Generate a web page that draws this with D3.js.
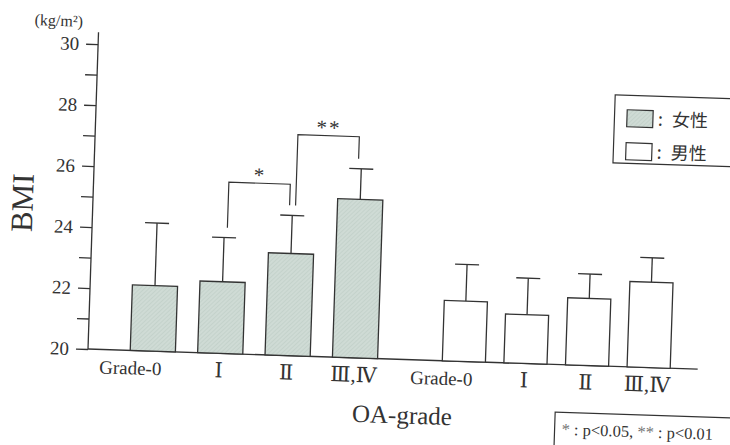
<!DOCTYPE html>
<meta charset="utf-8">
<style>
body { margin: 0; background: #fff; }
text { font-family: "Liberation Serif", "DejaVu Serif", serif; fill: #333; }
.jp { font-family: "Noto Sans CJK JP", sans-serif; }
</style>
<svg width="730" height="445"></svg>
<script src="https://cdn.jsdelivr.net/npm/d3@7"></script>
<script>

// data
var grades = ["Grade-0", "Ⅰ", "Ⅱ", "Ⅲ,Ⅳ"];
var femaleMean = [22.15, 22.35, 23.35, 25.2];
var femaleSD = [2.05, 1.45, 1.25, 1.0];
var maleMean = [21.98, 21.6, 22.2, 22.8];
var maleSD = [1.2, 1.2, 0.8, 0.8];
var yTicks = [20, 21, 22, 23, 24, 25, 26, 27, 28, 29, 30];
var legendLabels = ["女性", "男性"];
// significance between female groups (index a, index b, mark, bracket level in kg/m2)
var sigA = [1, 2], sigB = [2, 3], sigMark = ["*", "**"], sigLevel = [25.62, 27.25];

var svg = d3.select("svg");
var ink = "#333";

// hatch for the shaded bars
var pat = svg.append("defs").append("pattern")
    .attr("id", "shade").attr("width", 3).attr("height", 3)
    .attr("patternUnits", "userSpaceOnUse").attr("patternTransform", "rotate(45)");
pat.append("rect").attr("width", 3).attr("height", 3).attr("fill", "#cfdbd5");
pat.append("line").attr("x1", 0).attr("y1", 0).attr("x2", 0).attr("y2", 3)
    .attr("stroke", "#b9c9c2").attr("stroke-width", 1);

// the scan is tilted a little, so everything goes in a rotated group
var g = svg.append("g").attr("transform", "rotate(1.9,88,349)");

var y = d3.scaleLinear().domain([20, 30]).range([349, 44]);
var xF = d3.scaleBand().domain(grades).range([108, 400]).paddingInner(0.33).paddingOuter(0.33);
var xM = d3.scaleBand().domain(grades).range([424, 689]).paddingInner(0.3).paddingOuter(0.3);

// y axis
var yAxis = g.append("g").attr("transform", "translate(88,0)")
    .call(d3.axisLeft(y).tickValues(yTicks).tickSize(12).tickPadding(7).tickSizeOuter(0)
      .tickFormat(function(d) { return d % 2 === 0 ? d : ""; }));
yAxis.select(".domain").remove();
yAxis.selectAll("line").attr("stroke", ink).attr("stroke-width", 1.3);
yAxis.selectAll("text").style("font-size", "19px").attr("fill", ink)
    .style("font-family", "'Liberation Serif', serif");
g.append("line").attr("x1", 88).attr("x2", 88).attr("y1", 32).attr("y2", y(20))
    .attr("stroke", ink).attr("stroke-width", 1.3);
g.append("line").attr("x1", 88).attr("x2", 698).attr("y1", y(20)).attr("y2", y(20))
    .attr("stroke", ink).attr("stroke-width", 1.3);

function drawGroup(x, means, sds, fill) {
  var grp = g.append("g");
  var rows = grades.map(function(k, i) { return {k: k, m: means[i], sd: sds[i]}; });
  grp.selectAll("line.err").data(rows).enter().append("line")
      .attr("x1", function(d) { return x(d.k) + x.bandwidth() / 2; })
      .attr("x2", function(d) { return x(d.k) + x.bandwidth() / 2; })
      .attr("y1", function(d) { return y(d.m); })
      .attr("y2", function(d) { return y(d.m + d.sd); })
      .attr("stroke", ink).attr("stroke-width", 1.3);
  grp.selectAll("line.cap").data(rows).enter().append("line")
      .attr("x1", function(d) { return x(d.k) + x.bandwidth() / 2 - 12; })
      .attr("x2", function(d) { return x(d.k) + x.bandwidth() / 2 + 12; })
      .attr("y1", function(d) { return y(d.m + d.sd); })
      .attr("y2", function(d) { return y(d.m + d.sd); })
      .attr("stroke", ink).attr("stroke-width", 1.3);
  grp.selectAll("rect").data(rows).enter().append("rect")
      .attr("x", function(d) { return x(d.k); })
      .attr("y", function(d) { return y(d.m); })
      .attr("width", x.bandwidth())
      .attr("height", function(d) { return y(20) - y(d.m); })
      .attr("fill", fill).attr("stroke", ink).attr("stroke-width", 1.3);
  grp.selectAll("text").data(rows).enter().append("text")
      .attr("x", function(d) { return x(d.k) + x.bandwidth() / 2 + (d.k === "Grade-0" ? -22 : -1); })
      .attr("y", 373)
      .attr("text-anchor", "middle")
      .style("font-size", function(d) { return d.k === "Grade-0" ? "19px" : "21px"; })
      .text(function(d) { return d.k; });
}
drawGroup(xF, femaleMean, femaleSD, "url(#shade)");
drawGroup(xM, maleMean, maleSD, "#fff");

// significance brackets
sigMark.forEach(function(mark, i) {
  var a = grades[sigA[i]], b = grades[sigB[i]];
  var x1 = xF(a) + xF.bandwidth() / 2 + 3, x2 = xF(b) + xF.bandwidth() / 2 - 3;
  var top = y(sigLevel[i]);
  var b1 = y(femaleMean[sigA[i]] + femaleSD[sigA[i]]) - 10;
  var b2 = y(femaleMean[sigB[i]] + femaleSD[sigB[i]]) - 10;
  g.append("path")
      .attr("d", "M" + x1 + "," + b1 + "V" + top + "H" + x2 + "V" + b2)
      .attr("fill", "none").attr("stroke", ink).attr("stroke-width", 1.2);
  g.append("text").attr("x", (x1 + x2) / 2).attr("y", top - 1)
      .attr("text-anchor", "middle").attr("fill", "#666")
      .style("font-size", "21px").style("letter-spacing", "2px")
      .text(mark);
});

// axis titles
g.append("text").attr("x", 48).attr("y", 27).attr("text-anchor", "middle")
    .style("font-size", "16px").text("(kg/m²)");
g.append("text").attr("transform", "translate(28,205) rotate(-90)")
    .attr("text-anchor", "middle").style("font-size", "31px").text("BMI");
g.append("text").attr("x", 404).attr("y", 413).attr("text-anchor", "middle")
    .style("font-size", "25px").text("OA-grade");

// legend
var lg = g.append("g");
lg.append("rect").attr("x", 606.5).attr("y", 77.5).attr("width", 140).attr("height", 68)
    .attr("fill", "#fff").attr("stroke", ink).attr("stroke-width", 1.2);
lg.selectAll("rect.sw").data(legendLabels).enter().append("rect")
    .attr("x", 619).attr("y", function(d, i) { return 92 + i * 33; })
    .attr("width", 26).attr("height", 17)
    .attr("fill", function(d, i) { return i === 0 ? "url(#shade)" : "#fff"; })
    .attr("stroke", ink).attr("stroke-width", 1.2);
lg.selectAll("text.c").data(legendLabels).enter().append("text")
    .attr("class", "jp").attr("x", 650).attr("y", function(d, i) { return 107 + i * 33; })
    .style("font-size", "18px").text(":");
lg.selectAll("text.l").data(legendLabels).enter().append("text")
    .attr("class", "jp").attr("x", 664).attr("y", function(d, i) { return 107 + i * 33; })
    .style("font-size", "18px").text(function(d) { return d; });

// footnote
g.append("rect").attr("x", 557).attr("y", 396.5).attr("width", 200).attr("height", 60)
    .attr("fill", "#fff").attr("stroke", ink).attr("stroke-width", 1.2);
var note = g.append("text").attr("x", 564).attr("y", 419).style("font-size", "16.5px");
note.append("tspan").attr("fill", "#777").text("*");
note.append("tspan").text(" : p<0.05, ");
note.append("tspan").attr("fill", "#777").text("**");
note.append("tspan").text(" : p<0.01");

</script>
